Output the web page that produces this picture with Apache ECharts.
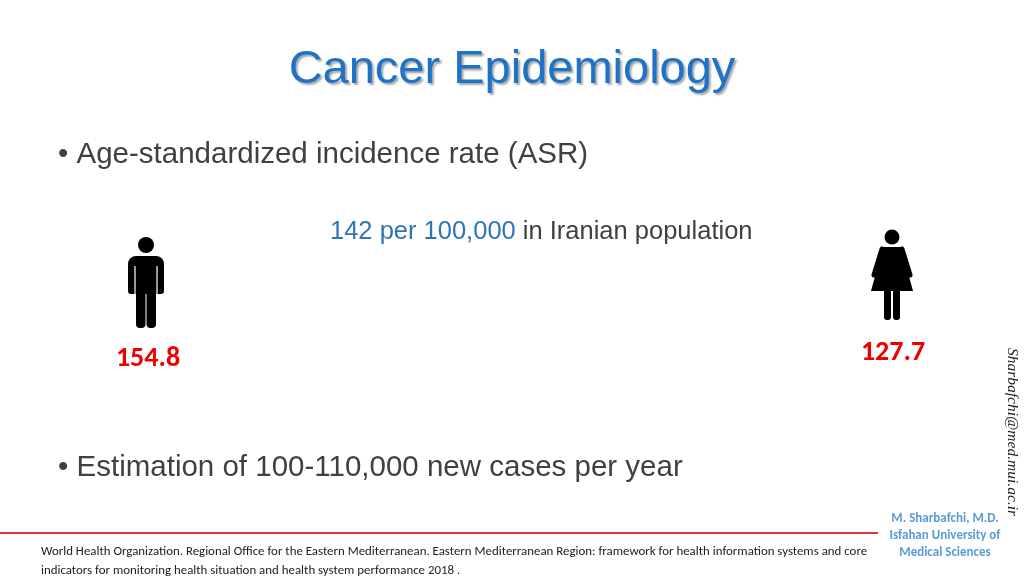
<!DOCTYPE html>
<html lang="en">
<head>
  <meta charset="UTF-8">
  <title>Cancer Epidemiology</title>
  <script src="https://cdn.jsdelivr.net/npm/echarts@6/dist/echarts.min.js"></script>
  <style>
    html, body { margin: 0; padding: 0; width: 100%; height: 100%; background: #fff; }
    #main { width: 1024px; height: 576px; }
  </style>
</head>
<body>
  <div id="main"></div>
  <script>
    const titleText = 'Cancer Epidemiology';
    const bullets = ['Age-standardized incidence rate (ASR)', 'Estimation of 100-110,000 new cases per year'];
    const overallRate = ['142 per 100,000', ' in Iranian population'];
    const genderValues = ['154.8', '127.7'];
    const authorLines = ['M. Sharbafchi, M.D.', 'Isfahan University of', 'Medical Sciences'];
    const sourceLines = [
      'World Health Organization. Regional Office for the Eastern Mediterranean. Eastern Mediterranean Region: framework for health information systems and core',
      'indicators for monitoring health situation and health system performance 2018 .'
    ];
    const email = 'Sharbafchi@med.mui.ac.ir';

    const sans = 'Liberation Sans, Arial, sans-serif';
    const calibri = 'Carlito, Lato, Open Sans, sans-serif';

    // man icon centred on cx, top of head at ty
    function man(cx, ty) {
      return [
        { type: 'circle', shape: { cx: cx, cy: ty + 9, r: 8 }, style: { fill: '#000' } },
        { type: 'rect', shape: { x: cx - 18, y: ty + 20, width: 36, height: 38, r: [8, 8, 3, 3] }, style: { fill: '#000' } },
        { type: 'rect', shape: { x: cx - 10, y: ty + 50, width: 9.5, height: 42, r: 4 }, style: { fill: '#000' } },
        { type: 'rect', shape: { x: cx + 0.5, y: ty + 50, width: 9.5, height: 42, r: 4 }, style: { fill: '#000' } },
        { type: 'line', shape: { x1: cx - 11, y1: ty + 30, x2: cx - 11, y2: ty + 58 }, style: { stroke: '#fff', lineWidth: 1.2 } },
        { type: 'line', shape: { x1: cx + 11, y1: ty + 30, x2: cx + 11, y2: ty + 58 }, style: { stroke: '#fff', lineWidth: 1.2 } }
      ];
    }

    function woman(cx, ty) {
      return [
        { type: 'circle', shape: { cx: cx, cy: ty + 8, r: 7.5 }, style: { fill: '#000' } },
        { type: 'polygon', shape: { points: [[cx - 9, ty + 18], [cx + 9, ty + 18], [cx + 21, ty + 62], [cx - 21, ty + 62]] }, style: { fill: '#000' } },
        { type: 'line', shape: { x1: cx - 10, y1: ty + 20, x2: cx - 18, y2: ty + 46 }, style: { stroke: '#000', lineWidth: 5, lineCap: 'round' } },
        { type: 'line', shape: { x1: cx + 10, y1: ty + 20, x2: cx + 18, y2: ty + 46 }, style: { stroke: '#000', lineWidth: 5, lineCap: 'round' } },
        { type: 'rect', shape: { x: cx - 8, y: ty + 60, width: 7, height: 31, r: 3 }, style: { fill: '#000' } },
        { type: 'rect', shape: { x: cx + 1, y: ty + 60, width: 7, height: 31, r: 3 }, style: { fill: '#000' } }
      ];
    }

    const chart = echarts.init(document.getElementById('main'));
    const elements = [
      { type: 'text', left: 'center', top: 47, style: { text: titleText, font: '47px ' + sans, fill: '#1F73C6', textShadowColor: 'rgba(0,0,0,0.35)', textShadowOffsetX: 2, textShadowOffsetY: 2, textShadowBlur: 2 } },
      { type: 'text', x: 58, y: 140, style: { text: '\u2022 ' + bullets[0], font: '29.5px ' + sans, fill: '#404040' } },
      { type: 'text', x: 330, y: 219, style: { rich: { a: { font: '25.5px ' + sans, fill: '#2E75B6' }, b: { font: '25.5px ' + sans, fill: '#404040' } }, text: '{a|' + overallRate[0] + '}{b|' + overallRate[1] + '}' } },
      { type: 'text', x: 148, y: 359, style: { text: genderValues[0], font: 'bold 28px ' + calibri, fill: '#EE0000', align: 'center', verticalAlign: 'middle' } },
      { type: 'text', x: 893, y: 353, style: { text: genderValues[1], font: 'bold 28px ' + calibri, fill: '#EE0000', align: 'center', verticalAlign: 'middle' } },
      { type: 'text', x: 58, y: 453, style: { text: '\u2022 ' + bullets[1], font: '29.5px ' + sans, fill: '#404040' } },
      { type: 'line', shape: { x1: 0, y1: 533, x2: 878, y2: 533 }, style: { stroke: '#D9383A', lineWidth: 2 } },
      { type: 'text', x: 945, y: 536, style: { text: authorLines.join('\n'), font: 'bold 13px ' + calibri, fill: '#5B9BD5', align: 'center', verticalAlign: 'middle', lineHeight: 17 } },
      { type: 'text', x: 41, y: 542, style: { text: sourceLines.join('\n'), font: '12.9px ' + calibri, fill: '#222', lineHeight: 19 } },
      { type: 'text', x: 1012, y: 432, rotation: -Math.PI / 2, style: { text: email, font: 'italic 15.5px Liberation Serif, serif', fill: '#222', align: 'center', verticalAlign: 'middle' } }
    ].concat(man(146, 236), woman(892, 229));

    chart.setOption({ animation: false, graphic: { elements: elements } });
  </script>
</body>
</html>
